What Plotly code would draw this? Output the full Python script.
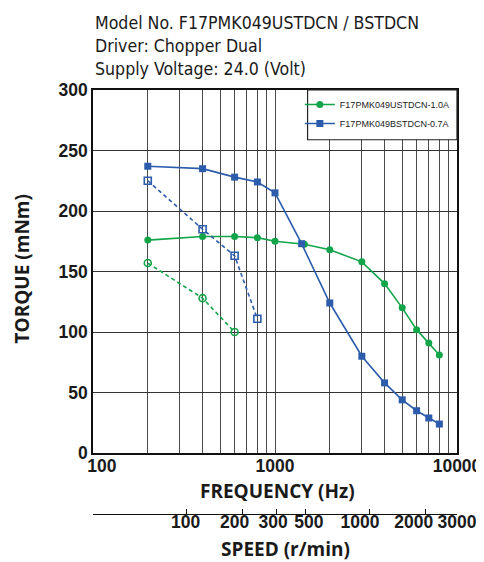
import plotly.graph_objects as go

# ---------------- data ----------------
freq_u_solid = [200, 400, 600, 800, 1000, 1450, 2000, 3000, 4000, 5000, 6000, 7000, 8000]
torque_u_solid = [176, 179, 179, 178, 175, 172.5, 168, 158, 140, 120, 102, 91, 81]

freq_b_solid = [200, 400, 600, 800, 1000, 1400, 2000, 3000, 4000, 5000, 6000, 7000, 8000]
torque_b_solid = [237, 235, 228, 224, 215, 173, 124, 80, 58, 44, 35, 29, 24]

freq_u_dash = [200, 400, 600]
torque_u_dash = [157, 128, 100]

freq_b_dash = [200, 400, 600, 800]
torque_b_dash = [225, 185, 163, 111]

freq_grid = [100, 200, 300, 400, 500, 600, 700, 800, 900,
             1000, 2000, 3000, 4000, 5000, 6000, 7000, 8000, 9000, 10000]
freq_labels = ["100", "1000", "10000"]
freq_label_pos_hz = [112, 1000, 10000]

speed_labels = ["100", "200", "300", "500", "1000", "2000", "3000"]
speed_tick_pos_hz = [100, 325, 660, 1015, 1470, 3300, 6700, 10000]   # tick marks (first one unlabeled)
speed_label_pos_hz = [323, 600, 977, 1536, 2930, 5780, 10000]        # label centres as printed

torque_ticks = [0, 50, 100, 150, 200, 250, 300]

names = ["F17PMK049USTDCN-1.0A", "F17PMK049BSTDCN-0.7A"]
# ---------------------------------------

GREEN = "#12a54a"
BLUE = "#2c5cab"
GRID = "#4a4a4a"
TICKFONT = dict(family="Liberation Sans, Arial, sans-serif", size=17.5, color="#1a1a1a", weight="bold")
TITLEFONT = dict(family="Open Sans, Lato, sans-serif", size=19, color="#1a1a1a", weight="bold")

# page has an 8px body margin: work in reference-image pixels and shift
OFF = 8
W, H = 484, 562
PL, PR, PT, PAPER_BOTTOM = 93.3, 457.0, 89.5, 530.0    # reference pixels
PLOT_BOTTOM = 453.0
SPEED_LINE = 514.0
L = PL - OFF
R = W - (PR - OFF)
T = PT - OFF
B = H - (PAPER_BOTTOM - OFF)
paper_h = PAPER_BOTTOM - PT
paper_w = PR - PL


def px(xr):
    return (xr - PL) / paper_w


def py(yr):
    return (PAPER_BOTTOM - yr) / paper_h


fig = go.Figure()

fig.add_trace(go.Scatter(x=freq_u_solid, y=torque_u_solid, mode="lines+markers", name=names[0],
                         line=dict(color=GREEN, width=1.6),
                         marker=dict(symbol="circle", size=7, color=GREEN)))
fig.add_trace(go.Scatter(x=freq_b_solid, y=torque_b_solid, mode="lines+markers", name=names[1],
                         line=dict(color=BLUE, width=1.6),
                         marker=dict(symbol="square", size=7, color=BLUE)))
fig.add_trace(go.Scatter(x=freq_u_dash, y=torque_u_dash, mode="lines+markers", showlegend=False,
                         line=dict(color=GREEN, width=1.6, dash="4px,3px"),
                         marker=dict(symbol="circle-open", size=7, color=GREEN, line=dict(width=1.6))))
fig.add_trace(go.Scatter(x=freq_b_dash, y=torque_b_dash, mode="lines+markers", showlegend=False,
                         line=dict(color=BLUE, width=1.6, dash="4px,3px"),
                         marker=dict(symbol="square-open", size=7, color=BLUE, line=dict(width=1.6))))
# carrier traces (invisible) so the extra axes get drawn
for ax, vals in (("x2", speed_tick_pos_hz), ("x3", speed_label_pos_hz), ("x4", freq_label_pos_hz)):
    fig.add_trace(go.Scatter(x=vals, y=[-10] * len(vals), xaxis=ax, yaxis="y", mode="markers",
                             marker=dict(opacity=0), showlegend=False, hoverinfo="skip"))

common_log = dict(type="log", range=[2, 4], zeroline=False, automargin=False, tickangle=0)

fig.update_layout(
    width=W, height=H,
    margin=dict(l=L, r=R, t=T, b=B, pad=0, autoexpand=False),
    paper_bgcolor="white", plot_bgcolor="white",
    xaxis=dict(**common_log, domain=[0, 1], anchor="y",
               tickmode="array", tickvals=freq_grid, showticklabels=False,
               showgrid=True, gridcolor=GRID, gridwidth=1.2,
               showline=True, linecolor="#111", linewidth=1.5, mirror=True, ticks=""),
    xaxis4=dict(**common_log, overlaying="x", anchor="y", side="bottom",
                tickmode="array", tickvals=freq_label_pos_hz, ticktext=freq_labels,
                showgrid=False, showline=False, ticks="", tickfont=TICKFONT),
    xaxis2=dict(**common_log, overlaying="x", anchor="free", position=py(SPEED_LINE), side="bottom",
                tickmode="array", tickvals=speed_tick_pos_hz, showticklabels=False,
                showgrid=False, showline=True, linecolor="#111", linewidth=1.2,
                ticks="inside", ticklen=5, tickwidth=1.2, tickcolor="#111"),
    xaxis3=dict(**common_log, overlaying="x", anchor="free", position=py(SPEED_LINE - 5), side="bottom",
                tickmode="array", tickvals=speed_label_pos_hz, ticktext=speed_labels,
                showgrid=False, showline=False, ticks="", tickfont=TICKFONT),
    yaxis=dict(range=[0, 300], domain=[py(PLOT_BOTTOM), 1], tickmode="array", tickvals=torque_ticks,
               showgrid=True, gridcolor="#333", gridwidth=1.2,
               showline=True, linecolor="#111", linewidth=1.5, mirror=True,
               ticks="", tickfont=TICKFONT, zeroline=False, automargin=False),
    legend=dict(x=px(300), xanchor="left", y=1.0, yanchor="top",
                bgcolor="rgba(0,0,0,0)", borderwidth=0,
                font=dict(family="Liberation Sans, Arial, sans-serif", size=9, color="#222")),
    showlegend=True,
)

# legend frame
fig.add_shape(type="rect", xref="x domain", yref="y domain",
              x0=px(307.7), x1=1, y0=(PLOT_BOTTOM - 139.3) / (PLOT_BOTTOM - PT), y1=1,
              fillcolor="white", line=dict(color="#222", width=1.2), layer="above")

fig.add_annotation(text="Model No. F17PMK049USTDCN / BSTDCN<br>Driver: Chopper Dual<br>Supply Voltage: 24.0 (Volt)",
                   xref="paper", yref="paper", x=px(93), y=py(45.5), xanchor="left", yanchor="middle",
                   align="left", showarrow=False,
                   font=dict(family="DejaVu Sans Condensed, sans-serif", size=17.6, color="#1a1a1a"))
fig.add_annotation(text="FREQUENCY (Hz)", xref="paper", yref="paper", x=px(278), y=py(490.5),
                   xanchor="center", yanchor="middle", showarrow=False, font=TITLEFONT)
fig.add_annotation(text="SPEED (r/min)", xref="paper", yref="paper", x=px(286), y=py(549),
                   xanchor="center", yanchor="middle", showarrow=False, font=TITLEFONT)
fig.add_annotation(text="TORQUE (mNm)", xref="paper", yref="paper", x=px(22.5), y=py(269),
                   xanchor="center", yanchor="middle", textangle=-90, showarrow=False, font=TITLEFONT)

fig.write_html("out.html")
